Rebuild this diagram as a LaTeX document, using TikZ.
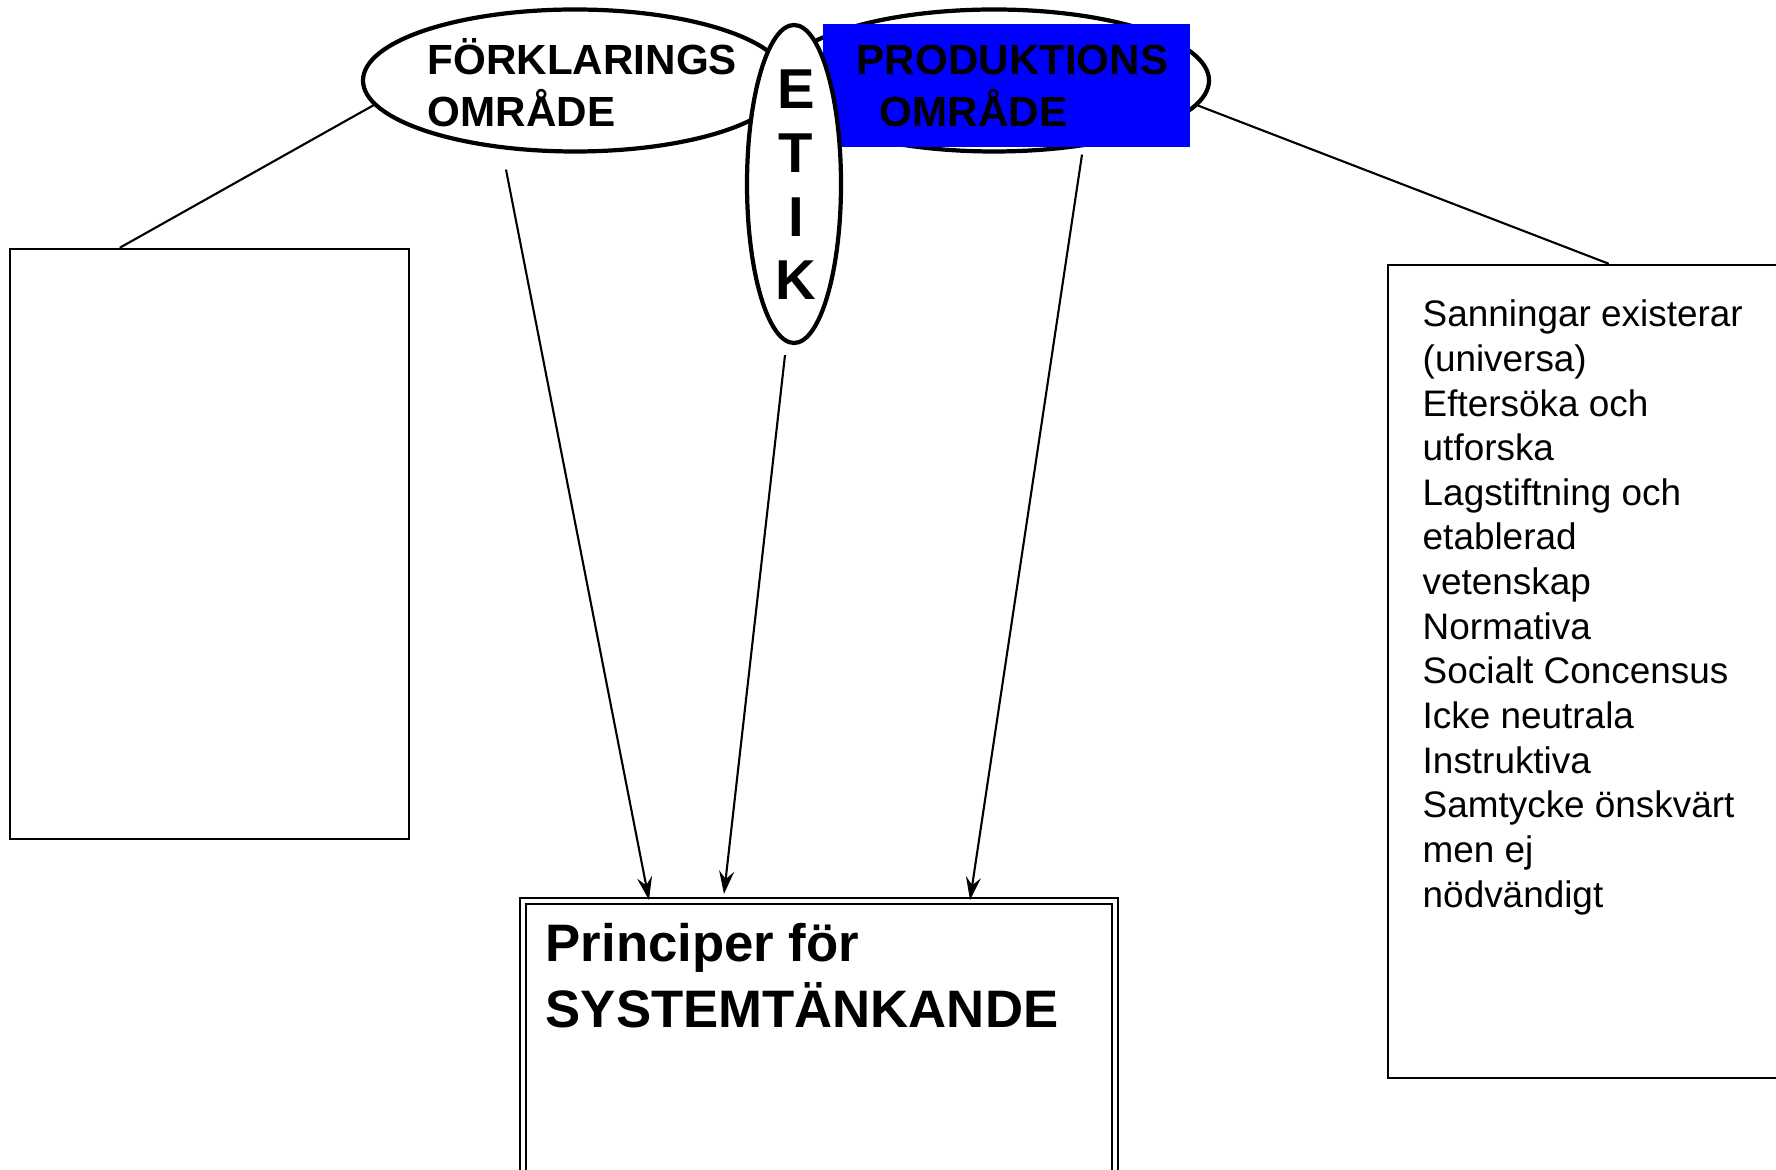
\documentclass[tikz,border=0pt]{standalone}
\usepackage{fontspec}
\setmainfont{Liberation Sans}
\usepackage{tikz}
\definecolor{prodblue}{RGB}{0,0,255}
\usetikzlibrary{arrows.meta,positioning,shapes.geometric,calc}
\tikzset{
  omrade/.style={draw, ellipse, line width=1.2pt, fill=white, inner sep=0pt,
                 minimum height=1.42cm},
  etikring/.style={draw, ellipse, line width=1.2pt, fill=white, inner sep=0pt,
                   minimum width=0.94cm, minimum height=3.18cm},
  omlabel/.style={font=\fontsize{12}{14.8}\selectfont\bfseries, align=left,
                  inner sep=0pt, anchor=base west},
  sbox/.style={draw, line width=0.7pt, inner sep=0pt},
  link/.style={line width=0.6pt},
  arr/.style={-{Stealth[length=0.23cm, width=0.15cm, inset=0.08cm]}, line width=0.6pt},
}

\begin{document}
\begin{tikzpicture}
\useasboundingbox (0,0) rectangle (17.76,-11.70);
% Areas on top
\node[omrade, minimum width=4.24cm] (fork) at (5.75,-0.805) {};
\node[omrade, minimum width=4.3cm] (prod) at (9.94,-0.805) {};
\node[fill=prodblue, inner sep=0pt, minimum width=3.67cm, minimum height=1.23cm] (prodfill) at (10.065,-0.855) {};
\node[etikring] (etik) at (7.94,-1.84) {};
\node[omlabel] (forklbl) at (4.27,-1.27) {FÖRKLARINGS\\OMRÅDE};
\node[omlabel] (prodlbl) at (8.56,-1.27) {PRODUKTIONS\\\hspace*{0.23cm}OMRÅDE};
\node[font=\fontsize{16}{18.2}\selectfont\bfseries, align=center, inner sep=0pt, anchor=base] (etiklbl) at (7.96,-3.00) {E\\T\\I\\K};
% Boxes
\node[sbox, minimum width=3.99cm, minimum height=5.90cm] (lbox) at (2.095,-5.44) {};
\node[sbox, minimum width=4.12cm, minimum height=8.13cm] (rbox) at (15.94,-6.715) {};
\node[font=\fontsize{10.5}{12.7}\selectfont, align=left, inner sep=0pt, anchor=base west] (rtext) at (14.22,-9.07) {%
Sanningar existerar\\(universa)\\Eftersöka och\\utforska\\Lagstiftning och\\etablerad\\vetenskap\\Normativa\\Socialt Concensus\\Icke neutrala\\Instruktiva\\Samtycke önskvärt\\men ej\\nödvändigt};
\node[draw, double, line width=0.57pt, double distance=0.04cm, inner sep=0pt,
      minimum width=5.915cm, minimum height=2.99cm] (princ) at (8.1875,-10.505) {};
\node[font=\fontsize{15}{18.5}\selectfont\bfseries, align=left, inner sep=0pt, anchor=base west] (princlbl) at (5.45,-10.27) {Principer för\\SYSTEMTÄNKANDE};
% Connectors
\draw[link] (fork.187) -- ([xshift=1.11cm]lbox.north west);
\draw[link] (prod.-7) -- ([xshift=2.22cm]rbox.north west);
\draw[arr] ([xshift=-0.69cm,yshift=-0.16cm]fork.south) -- ([xshift=1.27cm]princ.north west);
\draw[arr] ([xshift=-0.09cm,yshift=-0.10cm]etik.south) -- ([xshift=2.02cm,yshift=0.06cm]princ.north west);
\draw[arr] ([xshift=0.88cm,yshift=-0.01cm]prod.south) -- ([xshift=4.48cm]princ.north west);
\end{tikzpicture}
\end{document}
